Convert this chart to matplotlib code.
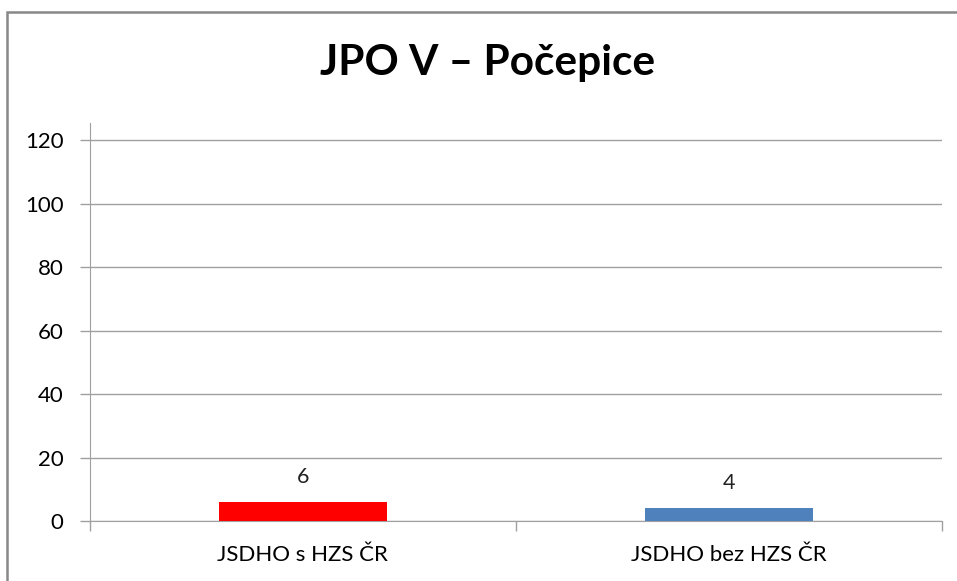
'''
Bar chart of JPO V - Pocepice units.
'''

import matplotlib.pyplot as plt
from matplotlib.patches import Rectangle

# Data
categories = ["JSDHO s HZS ČR", "JSDHO bez HZS ČR"]
values = [6, 4]
bar_colors = ["#FF0000", "#4F81BD"]
y_ticks = [0, 20, 40, 60, 80, 100, 120]
title = "JPO V – Počepice"

plt.rcParams['font.family'] = ['Lato', 'DejaVu Sans']

fig = plt.figure(figsize=(9.57, 5.81), dpi=100)
ax = fig.add_axes([0.094, 0.1033, 0.890, 0.685])

# Bars at category centres
positions = list(range(len(categories)))
bars = ax.bar(positions, values, width=0.395, color=bar_colors, zorder=3)

# Value labels above the bars
for bar, val in zip(bars, values):
    ax.annotate(str(val), (bar.get_x() + bar.get_width() / 2, bar.get_height()),
                xytext=(0, 11), textcoords="offset points",
                ha="center", va="bottom", fontsize=15.5, color="#222222")

# Axes limits and ticks
ax.set_xlim(-0.5, len(categories) - 0.5)
ax.set_ylim(0, 125.4)
ax.set_yticks(y_ticks)
ax.set_yticklabels([str(t) for t in y_ticks], fontsize=16)
ax.yaxis.grid(True, color="#A0A0A0", linewidth=1)
ax.set_axisbelow(True)

# Category labels below, with tick marks on category boundaries
ax.set_xticks(positions)
ax.set_xticklabels(categories, fontsize=16)
ax.tick_params(axis="x", length=0, pad=17)
ax.set_xticks([-0.5, 0.5, 1.5], minor=True)
ax.tick_params(axis="x", which="minor", length=7, color="#A0A0A0", width=1)
ax.tick_params(axis="y", length=7, color="#A0A0A0", width=1, pad=12)

for side in ["top", "right"]:
    ax.spines[side].set_visible(False)
ax.spines["left"].set_color("#A0A0A0")
ax.spines["bottom"].set_color("#A0A0A0")

# Title
fig.text(0.509, 0.892, title, ha="center", va="center",
         fontsize=30.5, fontweight="bold")

# Gray frame around the chart (cut at right and bottom)
fig.patches.append(Rectangle((7 / 957, -0.1), 1.2, 1.1 - 12 / 581,
                             transform=fig.transFigure, fill=False,
                             edgecolor="#888888", linewidth=1.8))

plt.savefig("out.png", dpi=100)
